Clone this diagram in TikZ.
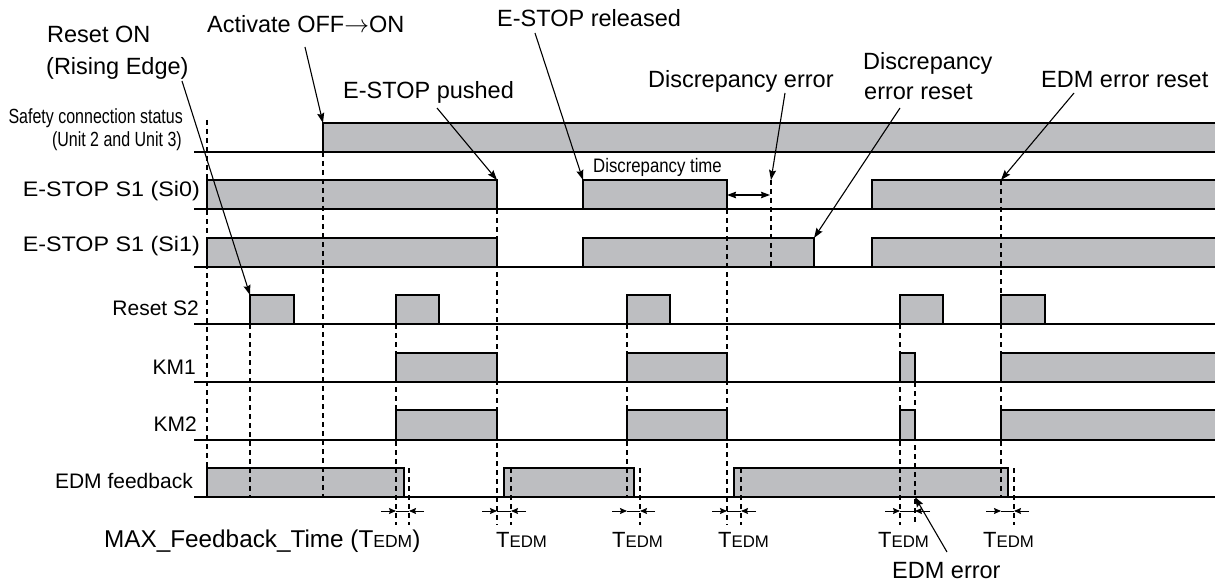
\documentclass[tikz,border=0pt]{standalone}
\usepackage{fontspec}
\setmainfont{Liberation Sans}
\newfontfamily\narrowA[FakeStretch=0.78]{Liberation Sans}
\newfontfamily\narrowB[FakeStretch=0.86]{Liberation Sans}
\newfontfamily\wideA[FakeStretch=1.11]{Liberation Sans}
\usetikzlibrary{arrows.meta}
\definecolor{sigfill}{RGB}{189,190,193}
\newcommand\sigbox[4]{\fill[sigfill] (#1,#3) rectangle (#2,#4); \draw[sigline] (#1,#4) -- (#1,#3) -- (#2,#3) -- (#2,#4);}
\newcommand\sigopen[4]{\fill[sigfill] (#1,#3) rectangle (#2,#4); \draw[sigline] (#2,#3) -- (#1,#3) -- (#1,#4);}
\newcommand\tedmarrows[2]{\draw[tarr] ({#1-15},511) -- (#1,511); \draw[thinline] (#1,511) -- (#2,511); \draw[tarr] ({#2+15},511) -- (#2,511);}
\newcommand\Tedm[2]{{\fontsize{#1}{#1}\selectfont T}{\fontsize{#2}{#2}\selectfont EDM}}
\begin{document}
\begin{tikzpicture}[x=1bp,y=-1bp,
  sigline/.style={line width=1.2bp, line join=miter},
  baseline/.style={line width=1.2bp},
  guide/.style={line width=1.1bp, dash pattern=on 5bp off 4bp},
  thinline/.style={line width=1bp},
  arr/.style={line width=1.1bp, -{Stealth[length=10bp,width=7bp,inset=1.5bp]}},
  tarr/.style={line width=1bp, -{Stealth[length=7bp,width=6bp,inset=1bp]}},
  dblarr/.style={line width=1.1bp, {Stealth[length=9bp,width=6.5bp,inset=1bp]}-{Stealth[length=9bp,width=6.5bp,inset=1bp]}},
  rowlbl/.style={font=\fontsize{21bp}{25bp}\selectfont, inner sep=0, anchor=base east},
  widelbl/.style={font=\wideA\fontsize{21bp}{25bp}\selectfont, inner sep=0, anchor=base east},
  narrowlbl/.style={font=\narrowA\fontsize{20.5bp}{24bp}\selectfont, inner sep=0, anchor=base east},
  ann/.style={font=\fontsize{23.5bp}{28bp}\selectfont, inner sep=0, anchor=base west},
  tlbl/.style={inner sep=0, anchor=base west}
]
\useasboundingbox (0,0) rectangle (1221,583);
% ---------- signal boxes ----------
% Safety connection status
\sigopen{323}{1215}{123}{152}
% E-STOP S1 (Si0)
\sigbox{207}{497}{180}{209}
\sigbox{583}{727}{180}{209}
\sigopen{872}{1215}{180}{209}
% E-STOP S1 (Si1)
\sigbox{207}{497}{238}{267}
\sigbox{583}{814}{238}{267}
\sigopen{872}{1215}{238}{267}
% Reset S2
\sigbox{250}{294}{295}{324}
\sigbox{396}{439}{295}{324}
\sigbox{627}{670}{295}{324}
\sigbox{900}{943}{295}{324}
\sigbox{1001}{1045}{295}{324}
% KM1
\sigbox{396}{497}{353}{382}
\sigbox{627}{727}{353}{382}
\sigbox{900}{915}{353}{382}
\sigopen{1001}{1215}{353}{382}
% KM2
\sigbox{396}{497}{410}{440}
\sigbox{627}{727}{410}{440}
\sigbox{900}{915}{410}{440}
\sigopen{1001}{1215}{410}{440}
% EDM feedback
\sigbox{207}{404}{468}{497}
\sigbox{504}{634}{468}{497}
\sigbox{734}{1008}{468}{497}
% ---------- base lines ----------
\foreach \yb in {152,209,267,324,382,440,497}
  \draw[baseline] (194,\yb) -- (1215,\yb);
% ---------- dashed guides ----------
\draw[guide] (207,120) -- (207,468);
\draw[guide] (250,324) -- (250,497);
\draw[guide] (323,152) -- (323,497);
\draw[guide] (396,324) -- (396,525);
\draw[guide] (409,468) -- (409,525);
\draw[guide] (497,209) -- (497,525);
\draw[guide] (511,468) -- (511,525);
\draw[guide] (627,324) -- (627,497);
\draw[guide] (640,468) -- (640,525);
\draw[guide] (727,209) -- (727,525);
\draw[guide] (741,468) -- (741,525);
\draw[guide] (771,180) -- (771,267);
\draw[guide] (900,324) -- (900,525);
\draw[guide] (915,382) -- (915,525);
\draw[guide] (1001,180) -- (1001,497);
\draw[guide] (1014,468) -- (1014,525);
% ---------- T_EDM arrows ----------
\tedmarrows{396}{409}
\tedmarrows{497}{511}
\tedmarrows{627}{640}
\tedmarrows{727}{741}
\tedmarrows{900}{915}
\tedmarrows{1001}{1014}
% discrepancy time arrow
\coordinate (dA) at (727,195);
\coordinate (dB) at (770,195);
\draw[dblarr] (dA) -- (dB);
% ---------- row labels ----------
\node[narrowlbl] (lSafA) at (183,124) {Safety connection status};
\node[narrowlbl] (lSafB) at (182,147) {(Unit 2 and Unit 3)};
\node[widelbl] (lSi0) at (200,197) {E-STOP S1 (Si0)};
\node[widelbl] (lSi1) at (200,252) {E-STOP S1 (Si1)};
\node[rowlbl] (lRst) at (199,316) {Reset S2};
\node[rowlbl] (lKM1) at (196,374) {KM1};
\node[rowlbl] (lKM2) at (197,431) {KM2};
\node[rowlbl] (lEDM) at (193,488) {EDM feedback};
\node[font=\narrowB\fontsize{19.5bp}{23bp}\selectfont, inner sep=0, anchor=base west] (lDisc) at (593,173) {Discrepancy time};
% ---------- annotations ----------
\node[ann] (aRst1) at (47,43) {Reset ON};
\node[ann] (aRst2) at (46,75) {(Rising Edge)};
\node[ann] (aAct) at (207,33) {Activate OFF\(\rightarrow\)ON};
\node[ann] (aRel) at (497,27) {E-STOP released};
\node[ann] (aPush) at (343,99) {E-STOP pushed};
\node[ann] (aDerr) at (648,88) {Discrepancy error};
\node[ann] (aDrs1) at (863,70) {Discrepancy};
\node[ann] (aDrs2) at (864,100) {error reset};
\node[ann] (aErs) at (1041,88) {EDM error reset};
\node[ann, font=\fontsize{24.3bp}{28bp}\selectfont] (aMax) at (104,547) {MAX\_Feedback\_Time (\Tedm{24.3bp}{17.5bp})};
\node[tlbl] (t1) at (496,547) {\Tedm{22bp}{16.8bp}};
\node[tlbl] (t2) at (612,547) {\Tedm{22bp}{16.8bp}};
\node[tlbl] (t3) at (718,547) {\Tedm{22bp}{16.8bp}};
\node[tlbl] (t4) at (878,547) {\Tedm{22bp}{16.8bp}};
\node[tlbl] (t5) at (983,547) {\Tedm{22bp}{16.8bp}};
\node[ann] (aEerr) at (892,578) {EDM error};
% ---------- annotation arrows ----------
\coordinate (pRs) at (182,81);   \coordinate (pRe) at (250,295);
\coordinate (pAs) at (305,47);   \coordinate (pAe) at (323,123);
\coordinate (pPs) at (437,108);  \coordinate (pPe) at (497,180);
\coordinate (pLs) at (535,33);   \coordinate (pLe) at (583,180);
\coordinate (pDs) at (785,93);   \coordinate (pDe) at (771,180);
\coordinate (pQs) at (900,108);  \coordinate (pQe) at (814,238);
\coordinate (pEs) at (1074,93);  \coordinate (pEe) at (1001,180);
\coordinate (pFs) at (947,552);  \coordinate (pFe) at (915,497);
\draw[arr] (pRs) -- (pRe);
\draw[arr] (pAs) -- (pAe);
\draw[arr] (pPs) -- (pPe);
\draw[arr] (pLs) -- (pLe);
\draw[arr] (pDs) -- (pDe);
\draw[arr] (pQs) -- (pQe);
\draw[arr] (pEs) -- (pEe);
\draw[arr] (pFs) -- (pFe);
\end{tikzpicture}
\end{document}
